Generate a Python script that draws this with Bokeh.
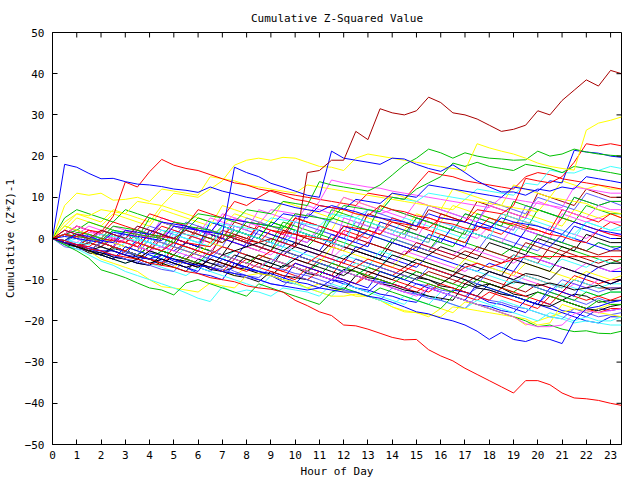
from bokeh.plotting import figure
from bokeh.models import Range1d, FixedTicker
from bokeh.embed import file_html
from bokeh.resources import INLINE

title_text = "Cumulative Z-Squared Value"
x_label = "Hour of Day"
y_label = "Cumulative (Z*Z)-1"
hours = [i * 0.5 for i in range(47)] + [23.45]
x_ticks = list(range(24))
y_ticks = [-50, -40, -30, -20, -10, 0, 10, 20, 30, 40, 50]

RED = "#ff0000"; GREEN = "#00c000"; BLUE = "#0000ff"; MAGENTA = "#ff50ff"
CYAN = "#40ffff"; DARKRED = "#a80000"; YELLOW = "#ffff00"; BLACK = "#000000"; LBLUE = "#5a5aff"

b1 = [0,2,1,0,-1,2,1,0,3,2,1,0,-1,2,1,0,-1,3,2,1,0,-1,2,1,0,4,3,2,1,0,5,4,3,2,6,5,4,3,2,8,7,6,5,10,9,8,9,8]
b2 = [0,-1,1,0,-1,-2,0,-1,2,1,0,-1,3,2,1,0,-1,4,3,2,1,0,-1,-2,2,1,0,3,2,1,0,-1,6,5,4,3,2,1,4,3,2,1,5,4,3,2,4,3]
b3 = [0,1,0,-1,-2,1,0,-1,-2,-3,0,-1,-2,2,1,0,-1,-2,-3,0,-1,-2,1,0,-1,-2,-3,-4,0,-1,-2,-3,1,0,-1,-2,-3,-4,-2,-3,-4,-5,-2,-3,-4,-5,-6,-5]
b4 = [0,-1,-2,-1,-2,-3,-4,0,-1,-2,-3,-1,-2,-3,-4,-5,-1,-2,-3,-4,-5,-3,-4,-5,-6,-2,-3,-4,-5,-6,-7,-4,-5,-6,-7,-8,-6,-7,-8,-4,-5,-6,-7,-8,-9,-7,-8,-8]
b5 = [0,2,1,3,2,1,0,2,1,0,4,3,2,1,0,5,4,3,2,1,0,-1,3,2,1,8,7,6,7,6,5,4,3,2,1,0,3,2,1,0,-1,3,2,1,0,2,1,1]
b6 = [0,-1,-2,-3,-1,-2,-3,-4,-5,-3,-4,-5,-6,-4,-5,-6,-7,-8,-5,-6,-7,-8,-6,-7,-8,-9,-7,-8,-9,-10,-8,-9,-10,-11,-9,-10,-11,-12,-10,-11,-12,-13,-11,-12,-13,-14,-13,-13]
b7 = [0,1,0,-1,2,1,0,-1,-2,1,0,-1,2,1,0,-1,-2,-3,0,-1,-2,1,0,-1,-2,-3,-1,-2,-3,-4,-2,-3,-4,-5,-3,-4,-5,-6,-4,-5,-6,-2,-3,-4,-5,-6,-5,-6]
b8 = [0,4,6,5,4,7,6,5,4,8,7,6,5,4,3,6,5,4,3,2,5,4,3,2,7,6,5,4,3,2,6,5,4,8,7,6,5,4,3,6,5,4,3,7,6,5,6,5]
b9 = [0,-1.5,-2,-3.5,-4,-2.5,-3,-4.5,-5,-6.5,-4,-5,-6,-7.5,-8,-7,-7.5,-8.5,-9,-6.5,-7,-8.5,-9,-10,-7.5,-8,-9.5,-10,-11,-12,-9.5,-10,-11.5,-12,-13,-14,-11,-12,-13.5,-14,-13,-14,-15,-13.5,-14,-15.5,-15,-15]
b10 = [0,1,2,1,0,-1,1,0,-1,-2,2,1,0,-1,-2,3,2,1,0,-1,4,3,2,1,0,-1,2,1,0,-1,-2,-3,0,-1,-2,-3,1,0,-1,-2,-3,0,-1,-2,-3,-1,-2,-3]
b11 = [0,-1,-2,-3,-4,-5,-3,-4,-5,-6,-2,-3,-4,-5,-6,-7,-5,-6,-7,-8,-6,-7,-8,-9,-5,-6,-7,-8,-9,-7,-8,-9,-10,-11,-9,-10,-11,-12,-8,-9,-10,-11,-12,-9,-10,-11,-10,-10]
b12 = [0,3,2,1,0,-1,2,1,0,4,3,2,1,0,3,2,1,0,-1,4,3,2,1,7,6,5,4,3,2,1,5,4,3,2,1,6,5,4,3,2,7,6,5,4,8,7,6,6]
b13 = [0,-0.5,-1.5,-2,-3,-4.5,-5,-6,-3.5,-4,-5.5,-6,-7,-8,-5,-6,-7.5,-8,-9,-10.5,-11,-8,-9,-10,-10.5,-12,-13,-10.5,-11,-12,-13.5,-14,-15,-12.5,-13,-14,-15.5,-16,-17,-18,-15,-16,-17.5,-18,-19,-17,-17.5,-17]
b14 = [0,1,0,-1,-2,0,-1,-2,-3,1,0,-1,-2,-3,0,-1,-2,-3,-4,-1,-2,-3,-4,-5,-2,-3,-4,-5,-6,-3,-4,-5,-6,-7,-8,-6,-7,-8,-9,-10,-11,-12,-13,-11,-12,-10,-11,-10]
b15 = [0,-1,-2,0,-1,-2,-3,0,-1,-2,1,0,-1,-2,2,1,0,-1,-2,3,2,1,0,6,5,4,3,2,1,5,4,3,2,1,0,4,3,2,1,5,4,3,2,1,4,3,2,2]
b16 = [0,1,3,2,1,0,-1,2,1,0,-1,3,2,1,0,4,3,2,1,0,5,4,3,2,1,0,6,5,4,3,2,7,6,5,4,9,8,7,6,5,11,10,9,8,12,11,10,10]
b17 = [0,-1,-2,-3,-4,-2,-3,-4,-5,-6,-7,-5,-6,-7,-8,-9,-7,-8,-9,-10,-11,-12,-11,-12,-13,-14,-14,-15,-16.6,-17.8,-18,-19,-17,-18,-15.4,-16,-17,-18,-19,-21,-20,-19,-18,-17,-18,-17,-16,-16]
b18 = [0,-1,-2,-3,-1,-2,-3,-4,-2,-3,-4,-1,-2,-3,-4,0,-1,-2,-3,-4,-2,-3,-4,-1,-2,-3,-4,-5,-1,-2,-3,-4,-2,-3,-4,-5,-1,-2,-3,-4,0,-1,-2,-3,1,0,-1,-1]
b19 = [0,-2,-2.5,-3,-1,-2,-3.5,-4,-5,-5.5,-6.5,-4,-5,-6,-6.5,-8,-9,-9.5,-7,-7.5,-8.5,-9,-10,-11,-8,-9,-10,-10.5,-12,-13,-11,-11.5,-12.5,-13,-14,-12,-12.5,-13.5,-14,-15,-16,-13,-14,-15,-16,-14.5,-15.5,-15]
b20 = [0,-1,-2,-1,-2,-3,-4,-5,-3,-4,-5,-6,-7,-5,-6,-7,-8,-6,-7,-8,-9,-10,-8,-9,-10,-11,-9,-10,-11,-12,-13,-11,-12,-13,-14,-15,-13,-14,-15,-16,-17,-14,-15,-16,-17,-18,-17,-17]
b21 = [0,-1,-2,-3,-1,-2,-3,-4,-5,-3,-4,-5,-2,-3,-4,-5,-6,-4,-5,-6,-7,-8,-6,-7,-8,-9,-7,-8,-9,-10,-8,-9,-10,-11,-12,-10,-11,-12,-13,-11,-12,-13,-14,-15,-13,-14,-13,-13]
b22 = [0,-1,1,0,-1,-2,2,1,0,-1,-2,3,2,1,0,-1,-2,2,1,0,-1,-2,-3,1,0,-1,-2,4,3,2,1,0,-1,3,2,1,0,-1,-2,2,1,0,-1,3,2,1,0,0]
b23 = [0,1,2,1,0,3,2,1,0,5,4,3,2,1,6,5,4,3,2,1,0,4,3,2,1,0,-1,3,2,1,0,5,4,3,2,1,0,-1,3,2,1,0,6,5,4,5,4,4]
b24 = [0,-1,-2,-3,-4,-5,-2,-3,-4,-5,-1,-2,-3,-4,-5,-3,-4,-5,-6,-2,-3,-4,-5,-6,-4,-5,-6,-7,-3,-4,-5,-6,-7,-8,-5,-6,-7,-8,-4,-5,-6,-7,-5,-6,-7,-5,-6,-6]
b25 = [0,-1,-2,0,-1,-2,-3,-4,-2,-3,-4,-5,-3,-4,-5,-6,-7,-4,-5,-6,-7,-8,-5,-6,-7,-8,-9,-7,-8,-9,-10,-8,-9,-10,-11,-9,-10,-11,-12,-13,-11,-12,-13,-10,-11,-12,-12,-12]
b26 = [0,-1,-1.5,-2.5,-3.5,-4,-5,-6,-6.5,-5,-6,-7,-8.5,-9,-10,-6,-7,-8,-8.5,-9.5,-10.5,-11,-12,-10,-11,-12,-12.5,-13.5,-14,-15,-15.5,-12,-13,-14,-15,-16,-16.5,-17.5,-18,-15,-16,-17,-18,-19,-20,-20.5,-19,-19]
b27 = [0,2,5,4,3,6,5,4,3,7,6,5,4,3,8,7,6,5,4,9,8,7,6,5,10,9,8,7,11,10,9,8,7,12,11,10,9,8,13,12,11,10,14,13,12,13,12,12]
b28 = [0,1,3,2,1,4,3,2,6,5,4,3,7,6,5,9,8,10,11.7,11,10.5,10,9.5,9,8.5,8,11,10.5,10,9.5,13,16.3,15.5,15,14,13.5,13,12.5,12,15,16,15.5,14.5,14,13.5,13,12.5,12]
b29 = [0,5,7,6,5,4,7,6,5,4,3,2,5,4,3,2,1,0,4,3,2,1,0,-1,3,2,1,0,-1,2,1,0,-1,-2,2,1,0,-1,-2,-3,1,0,-1,-2,-3,-1,-2,-2]
b30 = [0,-1,-2,-3,-4,-5,-6,-5,-6,-7,-8,-9,-7,-8,-9,-10,-11,-12,-9,-10,-11,-12,-13,-14,-11,-12,-13,-14,-15,-16,-13,-14,-15,-16,-17,-15,-16,-17,-18,-19,-20,-18,-19,-20,-19,-20,-20,-19]
b31 = [0,1,0,-1,2,1,0,3,2,1,0,4,3,2,1,0,5,4,3,2,1,6,5,4,3,2,7,6,5,4,3,8,7,6,5,4,9,8,7,6,10,9,8,7,11,10,9,9]
b32 = [0,-1,-1.5,-3,-3.5,-4.5,-5,-6,-6.5,-4,-5,-5.5,-6.5,-7,-8,-9,-9.5,-10.5,-8,-9,-9.5,-10,-11,-12,-12.5,-9,-10,-11,-11.5,-12.5,-13,-14,-14.5,-15,-11,-12,-12.5,-13.5,-14,-15,-16,-16.5,-15,-16,-17,-17.5,-16.5,-16]
c1 = [0,1,0,2,1,0,-1,1,0,3,2,1,0,-1,2,1,0,3,2,1,5,4,3,2,1,0,2,1,5,4,3,2,1,0,-1,3,2,6,5,4,3,2,7,6,5,4,6,5]
c2 = [0,-1,-2,1,0,-1,-2,-3,2,1,0,-1,-2,4,3,2,1,0,-1,-2,2,1,0,-1,3,2,1,0,-1,-2,-3,1,0,-1,-2,4,3,2,1,0,-1,-2,1,0,-1,-2,-3,-2]
c3 = [0,2,1,0,-1,-2,0,-1,-2,-3,-1,-2,-3,2,1,0,-1,-2,-3,-4,-1,-2,-3,-4,5,4,3,2,1,0,-1,-2,-3,-4,-2,-3,-4,-5,-6,-4,-5,-6,-7,-8,-6,-7,-8,-7]
c4 = [0,-1,0,-1,-2,-3,-1,-2,-3,-4,-5,-2,-3,-4,-5,-3,-4,-5,-6,-7,-4,-5,-6,-7,-8,-6,-7,-3,-4,-5,-6,-7,-8,-9,-7,-8,-9,-10,-11,-9,-10,-11,-12,-10,-11,-12,-11,-11]
c5 = [0,1,2,4,3,2,1,0,5,4,3,2,1,0,-1,2,1,0,4,3,2,1,0,5,4,3,2,8,7,6,5,4,3,2,6,5,4,3,9,8,7,6,5,10,9,8,9,9]
c6 = [0,-1,-2,-1,-2,0,-1,-2,-3,0,-1,-2,-3,-4,1,0,-1,-2,-3,2,1,0,-1,-2,-3,0,-1,-2,-3,-4,-1,-2,-3,-4,-5,-2,-3,-4,-5,-1,-2,-3,-4,-2,-3,-4,-3,-3]
c7 = [0,3,2,1,0,-1,-2,-3,0,-1,-2,-3,-4,-1,-2,-3,-4,-5,-6,-3,-4,-5,-6,-2,-3,-4,-5,-6,-7,-4,-5,-6,-7,-8,-5,-6,-7,-8,-9,-6,-7,-8,-9,-10,-8,-9,-10,-9]
c8 = [0,-0.5,-1.5,-2.5,-3,-4,-5,-5.5,-6.5,-7.5,-8,-5,-6,-7,-7.5,-8.5,-9.5,-10,-11,-11.5,-9,-10,-11,-11.5,-12.5,-13,-14,-15,-12,-13,-13.5,-14.5,-15,-16,-17,-14,-15,-15.5,-16.5,-17,-18,-19,-19.5,-17,-18,-19,-18.5,-18]
c9 = [0,-1,-2,-3,-4,-2,-3,-4,-5,-6,-7,-8,-5,-6,-7,-4,-5,-6,-7,-3,-4,-5,-6,-7,-8,-5,-6,-7,-4,-5,-6,-7,-8,-9,-6,-7,-8,-9,-5,-6,-7,-8,-4,-5,-6,-7,-6,-6]
c10 = [0,-1,-2,-3,-1,-2,-3,-4,-5,-6,-4,-5,-6,-7,-8,-5,-6,-7,-8,-9,-10,-7,-8,-9,-10,-11,-8,-9,-10,-11,-12,-13,-11,-12,-13,-14,-15,-12,-13,-14,-15,-16,-13,-14,-15,-14,-15,-14]
c11 = [0,1,3,2,1,0,2,1,0,4,3,2,1,5,4,3,2,7,6,5,4,8,7,6,10,9,8,7,6,5,9,8,7,6,5,4,8,7,6,5,9,8,7,6,5,8,7,7]
c12 = [0,-1,-2,0,-1,-2,-3,-4,-2,-3,-4,-5,-6,-3,-4,-5,-6,-7,-5,-6,-7,-8,-9,-6,-7,-8,-9,-10,-11,-9,-10,-11,-12,-13,-10,-11,-12,-13,-14,-15,-13,-14,-15,-16,-17,-15,-16,-16]
c13 = [0,-1,-2,-3,-4,-5,-2,-3,-4,-5,-6,-7,-8,-4,-5,-6,-7,-8,-9,-10,-6,-7,-8,-9,-10,-11,-12,-8,-9,-10,-11,-12,-13,-14,-15,-11,-12,-13,-14,-15,-16,-12,-13,-14,-9,-10,-11,-10]
c14 = [0,-1,1,0,-1,2,1,0,-1,-2,1,0,-1,-2,3,2,1,0,-1,-2,2,1,0,-1,-2,5,4,3,2,1,0,-1,4,3,2,1,0,6,5,4,3,2,1,0,4,3,2,3]
c15 = [0,-1,-2,-3,-1,-2,-3,-4,0,-1,-2,-3,-4,-5,-2,-3,-4,-5,-6,-3,-4,-5,-6,-7,-8,-5,-6,-7,-8,-9,-10,-7,-8,-9,-10,-11,-8,-9,-10,-11,-12,-13,-10,-11,-12,-13,-12,-12]

darkred_top = [0,2,1,0,2,1,0,3,2,1,0,2,1,0,-1,1,0,-1,0,-1,-2,16,16.5,19,19,26,24,31.5,30.5,30,31,34.3,33,30.5,30,29,27.5,26,26.5,27.5,31,30,33.5,36,38.5,37,40.8,40]
red_bottom = [0,-0.5,-1.5,-2.5,-3,-4,-4.5,-5,-6,-6.5,-7,-8,-8.5,-9.5,-10,-10.5,-11.5,-12,-12.3,-13,-15,-16.3,-17.8,-18.7,-21,-21.2,-22,-23,-24,-24.6,-24.5,-27,-28.5,-29.7,-31.5,-33,-34.5,-36,-37.5,-34.5,-34.5,-35.5,-37.5,-38.7,-38.9,-39.3,-40,-40.5]
blue_bottom = [0,-1,-1.5,-2.5,-3,-3,-4,-4.5,-5,-4,-5,-6,-6.5,-7,-8,-8.5,-9,-10,-11,-11.5,-12,-12.5,-12,-12.5,-13,-13,-14,-14.5,-15.5,-16.6,-17.8,-18.3,-19.3,-20,-21,-22.5,-24.5,-22.8,-24.5,-25,-24,-24.5,-25.5,-20,-17,-16.5,-15.5,-15]
blue_early = [0,18,17.3,15.8,14.5,14.6,13.8,13.2,13,12.6,12,11.7,11.2,12.5,11.5,10.8,10,9.5,9,8.3,7.5,7,6.5,8,7.2,6.5,5.5,5,4.5,4,3,6,5,4.5,4,3,2.5,5,4,3.5,3,2,1,4,3,2,1.5,1]
blue_mid = [0,-0.5,1,0.5,-0.5,-1,2,1.5,1,4,3.5,3,2,1.5,1,17.3,16,15,13.4,12.5,11.5,10.5,10,21.2,19.5,19,18.5,18,19.5,19.3,18,17,16.3,17.9,16,14,12.5,11.3,11.3,10.5,12,11.5,12.5,12,15,14.5,14,13.5]
red_jump = [0,1,0.5,2,1.5,5.4,13.7,12.5,16.2,19.2,17.8,17,16.5,15.5,14.5,13.5,13,12,11.5,10.5,9.5,9,8,7.5,7,6,5.5,8,7,6.5,5.5,5,4,3.5,2.5,2,5,4,3.5,2.5,2,1,0.5,-0.5,-1,2,1,0.5]
yellow_top = [0,3,6,5.5,7,6.5,6,9,8.5,8,11,10.5,10,12,14,17.8,19,19.5,19,19.7,19.5,18.5,17.5,17.3,16.5,19.5,20.5,20,19.5,19,18.5,18,17.5,17,16.5,23,22,21.2,20.5,19.5,18.3,17.5,17,16.6,26.3,28,28.7,29.5]
green_top = [0,-0.5,1.5,1,0,3,2.5,2,1,0.5,4,3.5,6,5.5,5,4,7,6.5,6,9,8.5,8,13.8,13,12.5,12,11.5,13,15.4,17.9,19.5,21.7,20.8,19.5,20.8,20,19.5,19.3,19,19.1,21.2,20,20.5,21.7,21,20.5,20.2,20]
green_2 = [0,1,0.5,0,-0.5,2,1.5,1,0.5,0,-1,3,2.5,2,1,0.5,4,3.5,3,2.5,6,5.5,5,4.5,8,7.5,7,6.5,10,9.5,12,13.5,15,18.3,17.5,18.5,17.5,17,16.5,18,17.5,17,16,17.5,17,16.5,16,15.5]
red_2 = [0,-1,-1.5,-2,0,-0.5,-1,-2,1,0.5,0,-1,-1.5,-2,1,0.5,-0.5,-1,2,1.5,1,0.5,0,-0.5,3,2.5,2,1,4,3.5,3,2.5,5,4.5,4,7,6.5,6,8,14.6,14,13.5,15,18.5,23,22.5,23,22.5]
cyan_top = [0,-0.5,-1,-1.5,1,0.5,0,-0.5,-1,2,1.5,1,0.5,4,3.5,3,2.5,2,5,4.5,4,3.5,3,6,5.5,5,7,6.5,10,9.5,9,11,10.5,10,9.5,12,11.5,11,10.5,13.4,13,16.6,16,15.9,17,16.5,17.5,17]
blue_c = [0,0.5,0,-0.5,-1,1.5,1,0.5,0,-0.5,3,2.5,2,1.5,5,4.5,4,3.5,3,6,5.5,5,8,7.5,7,9.5,9,8.5,11,10.5,10,13,12.5,12,11.5,11,10.5,10,12.5,12,11.5,14,13.5,21.4,21,20.7,20,19.7]
magenta_a = [0,1,0.5,0,-0.5,-1,1.5,1,0.5,0,3,2.5,2,1.5,5,4.5,4,3.5,7,6.5,6,5.5,9,14.2,13.5,13,12.5,12.2,11.5,11,10.5,10,9.5,9,8.5,8,7.5,10,9.5,9,8.5,8,7.5,12.5,12,11.5,11,11]
yellow_2 = [0,8,11,10.5,11,9.3,9.5,10,9,12,11.5,11,10.5,15,14.5,14,13,12.5,12,11.5,11,13,12.5,12,11.5,11,10.5,10,9.5,9,8.5,8,7.5,7,9.5,9,8.5,8,7.5,7,6.5,10,9.5,9,8.5,7,6.5,6]
yellow_3 = [0,-1,-2,-3,-5,-6,-7,-8,-10,-11.7,-12,-12.5,-13,-10.8,-11.5,-12,-9,-8.5,-9,-10,-10.5,-12,-13,-14,-14,-13.5,-14,-15,-16.6,-17.5,-18,-18.5,-19,-16.6,-17,-17.5,-18,-18.5,-19,-19.5,-21,-20.5,-16,-17,-17.5,-18,-18.5,-19]
cyan_bottom = [0,-1.5,-2.5,-4,-5.5,-6.5,-8,-9,-10,-11,-12,-13.2,-14.5,-15.3,-11.7,-13.2,-12.5,-13,-14,-12,-12.5,-13,-14,-11,-12,-13,-14,-15,-16,-14,-15,-16,-13,-14,-15,-16,-17,-15,-16,-17,-18,-19,-19.5,-20.5,-20,-20.5,-21,-21]
green_bottom = [0,-1.5,-3,-4.8,-7.6,-8.5,-9.5,-10.8,-12,-12.5,-13.7,-10.8,-10,-11,-12,-13,-14,-11,-12,-13,-14,-15,-16,-13,-12,-13,-14,-12,-13,-14,-15,-16,-17,-14,-15,-16,-17,-18,-19,-20,-21.4,-21,-22,-22.6,-22.4,-23,-23.1,-22.5]
magenta_bottom = [0,-0.5,-1,1.5,1,0,-1,-2,-3,-2,-3,-4,-5,-3,-4,-5,-6,-7,-5,-6,-7,-8,-9,-10,-8,-9,-10,-11,-12,-13,-14,-12,-13,-14,-15,-16,-17,-18,-19,-20.7,-21.4,-21.4,-21,-18.3,-17.5,-18,-17.5,-17]
red_flat = [0,-1,-2,0,-1,-2,-3,-1,-2,-3,-1,-2,-3,-4,-2,-3,-4,-5,-3,-4,-5,-6,-4,-5,-6,-7,-5,-6,-7,-8,-6,-7,-8,-9,-7,-6,-7,-6,-5,-4.4,-4.4,-4.4,-4.4,-4.4,-4.4,-4.4,-4.4,-4.4]
black_1 = [0,-1,-2,-3,-2,-3,-4,-5,-3,-4,-5,-6,-7,-5,-6,-7,-4,-5,-6,-7,-5,-6,-7,-8,-9,-7,-8,-9,-10,-8,-9,-10,-11,-9,-10,-11.7,-11,-12,-10.5,-11,-11.5,-10.8,-11.5,-12.5,-12,-11.3,-12.5,-12]
black_2 = [0,-1,-2,-3,-4,-5,-6,-5,-6,-5,-6,-7,-6,-7,-4,-3,-2,-1,-2,-3,-1,-2,-3,-4,-5,-3,-4,-5,-6,-7,-5,-6,-7,-8,-9,-10,-8,-9,-10,-8.5,-9,-10,-7,-8,-9,-10,-11,-10]

series = [
    (b1, LBLUE), (b2, RED), (b3, GREEN), (b4, BLUE), (b5, MAGENTA), (b6, CYAN),
    (b7, DARKRED), (b8, YELLOW), (b9, BLACK), (b10, LBLUE), (b11, RED), (b12, GREEN),
    (b13, BLUE), (b14, MAGENTA), (b15, CYAN), (b16, DARKRED), (b17, YELLOW), (b18, BLACK),
    (b19, LBLUE), (b20, RED), (b21, GREEN), (b22, BLUE), (b23, MAGENTA), (b24, CYAN),
    (b25, DARKRED), (b26, BLUE), (b27, YELLOW), (b28, RED), (b29, GREEN), (b30, CYAN),
    (b31, LBLUE), (b32, BLACK),
    (c1, RED), (c2, BLUE), (c3, MAGENTA), (c4, CYAN), (c5, GREEN), (c6, DARKRED),
    (c7, YELLOW), (c8, LBLUE), (c9, BLACK), (c10, RED), (c11, MAGENTA), (c12, GREEN),
    (c13, BLUE), (c14, CYAN), (c15, LBLUE),
    (yellow_3, YELLOW), (cyan_bottom, CYAN), (green_bottom, GREEN), (magenta_bottom, MAGENTA),
    (red_flat, RED), (black_1, BLACK), (black_2, BLACK), (yellow_2, YELLOW), (magenta_a, MAGENTA),
    (cyan_top, CYAN), (blue_c, BLUE), (red_2, RED), (green_2, GREEN), (green_top, GREEN),
    (yellow_top, YELLOW), (red_jump, RED), (blue_mid, BLUE), (blue_early, BLUE),
    (blue_bottom, BLUE), (red_bottom, RED), (darkred_top, DARKRED),
]

X_MIN, X_MAX, Y_MIN, Y_MAX = 0, 23.45, -50, 50
FRAME_W, FRAME_H, TICK_PX = 570, 413, 5
FONT = "DejaVu Sans Mono"
FS = "11px"
p = figure(width=640, height=480, output_backend="svg", toolbar_location=None,
           x_range=Range1d(X_MIN, X_MAX), y_range=Range1d(Y_MIN, Y_MAX),
           min_border_left=51, min_border_right=19, min_border_top=32, min_border_bottom=35)
p.title.text = title_text
p.title.align = "center"
p.title.text_font = FONT
p.title.text_font_size = FS
p.title.text_font_style = "normal"
p.title.text_color = "black"
p.title.offset = 0
p.title.standoff = 16
p.grid.visible = False
p.outline_line_color = "black"
p.outline_line_width = 1
p.background_fill_color = "white"
p.border_fill_color = "white"

for vals, col in series:
    p.line(hours, vals, line_color=col, line_width=1)

# mirrored tick marks on the top and right frame edges (gnuplot style)
ty = TICK_PX * (Y_MAX - Y_MIN) / FRAME_H
tx = TICK_PX * (X_MAX - X_MIN) / FRAME_W
p.segment(x0=x_ticks, y0=[Y_MAX] * len(x_ticks), x1=x_ticks, y1=[Y_MAX - ty] * len(x_ticks),
          line_color="black", line_width=1)
p.segment(x0=[X_MAX] * len(y_ticks), y0=y_ticks, x1=[X_MAX - tx] * len(y_ticks), y1=y_ticks,
          line_color="black", line_width=1)

for ax in (p.xaxis[0], p.yaxis[0]):
    ax.major_tick_in = TICK_PX
    ax.major_tick_out = 0
    ax.minor_tick_in = 0
    ax.minor_tick_out = 0
    ax.axis_line_color = "black"
    ax.major_tick_line_color = "black"
    ax.major_label_text_font = FONT
    ax.major_label_text_font_size = FS
    ax.major_label_text_color = "black"
    ax.axis_label_text_font = FONT
    ax.axis_label_text_font_size = FS
    ax.axis_label_text_font_style = "normal"
    ax.axis_label_text_color = "black"
p.xaxis[0].ticker = FixedTicker(ticks=x_ticks)
p.yaxis[0].ticker = FixedTicker(ticks=y_ticks)
p.xaxis[0].axis_label = x_label
p.yaxis[0].axis_label = y_label
p.xaxis[0].major_label_standoff = 6
p.yaxis[0].major_label_standoff = 8
p.xaxis[0].axis_label_standoff = 3
p.yaxis[0].axis_label_standoff = 5

open("out.html", "w").write(file_html(p, INLINE))
